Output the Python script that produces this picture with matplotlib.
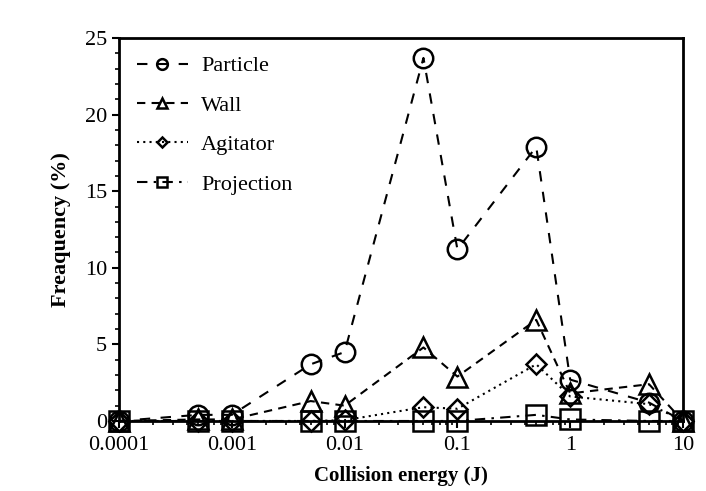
import numpy as np
import matplotlib
matplotlib.use("Agg")
import matplotlib.pyplot as plt
from matplotlib.ticker import FixedLocator, FixedFormatter, MultipleLocator, LogLocator, NullFormatter

plt.rcParams['font.family'] = ['Liberation Serif', 'DejaVu Serif']

energy = [0.0001, 0.0005, 0.001, 0.005, 0.01, 0.05, 0.1, 0.5, 1, 5, 10]
particle = [0, 0.4, 0.4, 3.7, 4.5, 23.7, 11.2, 17.9, 2.7, 1.2, 0]
wall = [0, 0.1, 0.1, 1.3, 1.0, 4.8, 2.9, 6.6, 1.8, 2.4, 0]
agitator = [0, 0, 0, 0, 0.05, 0.9, 0.8, 3.7, 1.6, 1.1, 0]
projection = [0, 0, 0, 0, 0, 0, 0, 0.4, 0.1, 0, 0]

xticks = [0.0001, 0.001, 0.01, 0.1, 1, 10]
xticklabels = ["0.0001", "0.001", "0.01", "0.1", "1", "10"]

fig = plt.figure(figsize=(7.06, 4.91), dpi=100)
ax = fig.add_axes([0.1686, 0.1426, 0.7988, 0.78])

ms = 14
mew = 1.8
common = dict(color='black', lw=1.5, mfc='none', mec='black', mew=mew, clip_on=False)
ax.plot(energy, projection, linestyle=(0, (5, 3, 1.2, 3)), marker='s', ms=ms,
        label='Projection', **common)
ax.plot(energy, agitator, linestyle=(0, (1, 2)), marker='D', ms=ms * 0.72,
        label='Agitator', **common)
ax.plot(energy, wall, linestyle=(0, (4, 3)), marker='^', ms=ms,
        label='Wall', **common)
ax.plot(energy, particle, linestyle=(0, (5, 5)), marker='o', ms=ms,
        label='Particle', **common)

ax.set_xscale('log')
ax.set_xlim(0.0001, 10)
ax.set_ylim(0, 25)
ax.xaxis.set_major_locator(FixedLocator(xticks))
ax.xaxis.set_major_formatter(FixedFormatter(xticklabels))
ax.xaxis.set_minor_locator(LogLocator(base=10, subs=np.arange(2, 10)))
ax.xaxis.set_minor_formatter(NullFormatter())
ax.yaxis.set_major_locator(MultipleLocator(5))
ax.yaxis.set_minor_locator(MultipleLocator(1))

for s in ax.spines.values():
    s.set_linewidth(2)
ax.tick_params(which='major', length=5, width=1.5, labelsize=16, direction='out')
ax.tick_params(which='minor', length=3, width=1.2, direction='out')
ax.tick_params(axis='x', which='major', pad=6)

ax.set_xlabel("Collision energy (J)", fontsize=15, fontweight='bold', labelpad=8)
ax.set_ylabel("Freaquency (%)", fontsize=16, fontweight='bold', labelpad=10)

handles, labels = ax.get_legend_handles_labels()
ax.legend(handles[::-1], labels[::-1], loc='upper left', frameon=False, fontsize=16,
          markerscale=0.55, handlelength=2.3, handletextpad=0.6,
          labelspacing=0.85, borderaxespad=0.4)

fig.savefig("out.png", dpi=100)
